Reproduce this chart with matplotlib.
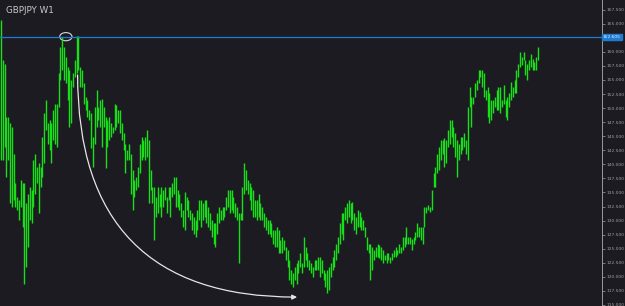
import matplotlib
matplotlib.use("Agg")
import matplotlib.pyplot as plt
import matplotlib.transforms as mtransforms
from matplotlib.patches import Ellipse, FancyArrowPatch
from matplotlib.path import Path

title = "GBPJPY W1"
level = 162.605
level_label = "162.605"
yticks = [115.0, 117.5, 120.0, 122.5, 125.0, 127.5, 130.0, 132.5, 135.0, 137.5, 140.0,
          142.5, 145.0, 147.5, 150.0, 152.5, 155.0, 157.5, 160.0, 162.5, 165.0, 167.5]
hidden_tick = 162.5  # covered by the level label in the reference

highs = [
    165.6, 158.5, 157.9, 148.5, 148.5, 147.3, 146.7, 141.9, 136.6, 134.2, 133.6, 137.2, 136.6, 136.6, 133.1,
    134.8, 136.0, 135.4, 140.8, 141.9, 139.6, 140.2, 139.6, 144.9, 149.1, 151.4, 147.3, 147.9, 147.3, 149.6,
    150.8, 150.8, 156.2, 160.9, 162.6, 160.9, 159.1, 157.3, 156.8, 155.0, 156.2, 158.5, 162.9, 162.9, 157.3,
    156.8, 154.4, 152.0, 151.4, 149.6, 149.1,
    144.9, 150.2, 153.2, 150.2, 151.4, 151.7, 150.2, 148.5, 147.9, 148.5, 147.3, 146.7, 150.8, 150.5, 149.6,
    149.6, 147.3, 145.5, 143.7, 142.5, 143.7, 141.9, 139.0, 137.2, 137.8, 139.6, 143.7, 144.9, 144.3, 144.9,
    146.1, 144.3, 139.0, 136.0, 136.0, 134.2, 136.0, 134.8, 136.0, 135.4, 136.0, 134.2, 136.0, 136.0, 136.6,
    137.8, 137.8, 135.4, 134.8, 133.1, 131.9,
    135.1, 134.2, 133.6, 131.9, 131.3, 130.7, 130.1, 131.9, 133.6, 133.6, 133.1, 133.6, 133.6, 132.5, 131.3,
    130.1, 129.5, 129.5, 131.3, 132.5, 131.9, 132.5, 132.5, 134.2, 135.4, 135.4, 135.4, 134.2, 133.1, 132.5,
    131.3, 131.3, 136.0, 140.2, 139.0, 137.2, 136.6, 136.0, 135.4, 133.6, 133.6, 134.8, 133.1, 132.5, 131.3,
    130.7, 130.1, 130.1, 129.5, 128.3, 128.3, 128.9, 128.3, 126.5,
    127.1, 126.5, 125.3, 124.8, 123.0, 121.2, 120.6, 121.8, 122.4, 123.0, 124.2, 122.4, 127.1, 125.3, 124.2,
    123.0, 122.4, 121.8, 123.0, 123.0, 123.6, 123.6, 123.0, 121.2, 120.6, 121.2, 121.8, 122.4, 123.6, 124.8,
    125.9, 127.1, 129.5, 131.3, 131.3, 132.5, 133.1, 133.6, 133.1, 133.3, 131.3, 130.7, 131.9, 131.6, 130.7,
    130.1, 128.9, 127.1, 125.9, 125.9, 125.3, 124.8, 125.3, 125.9, 125.6, 125.3, 124.8, 123.9, 124.2, 124.2,
    123.6, 124.2, 124.8, 125.3, 124.8, 125.9, 125.3, 127.1, 127.1, 128.9, 127.1, 127.1, 126.8, 127.1, 128.0,
    129.5, 128.9, 128.9, 128.9, 132.5, 132.5, 132.8, 132.5, 135.4, 138.4, 139.6, 141.9, 143.1, 144.3, 144.3,
    144.6, 144.3, 146.1, 147.9, 147.9, 146.7, 145.5, 144.3, 143.7, 144.9, 144.9, 145.5, 144.3, 150.2, 153.8,
    152.0, 152.0, 154.4, 155.0, 156.8, 156.8, 156.8, 156.2, 153.2, 153.8, 152.6, 151.4, 151.4, 152.0, 153.2,
    153.8, 153.8, 151.4, 154.1, 151.4, 152.0, 152.6, 154.7, 153.8, 155.0, 156.8, 157.9, 160.0, 159.1, 160.0,
    158.5, 157.9, 158.5, 159.7, 158.8, 158.2, 159.1, 160.9,
]
lows = [
    140.8, 140.8, 143.1, 137.8, 140.8, 133.1, 132.5, 133.6, 132.5, 131.9, 130.1, 132.5, 128.9, 118.8, 121.8,
    125.3, 130.1, 129.5, 132.5, 134.8, 136.6, 131.3, 136.0, 137.8, 140.2, 146.1, 143.7, 142.5, 140.2, 144.3,
    143.7, 143.1, 150.2, 155.0, 156.8, 155.0, 154.4, 151.4, 146.7, 147.3, 153.8, 155.6, 156.2, 156.8, 153.8,
    153.8, 150.8, 149.6, 148.5, 147.9, 142.9,
    139.6, 143.7, 146.7, 147.9, 146.7, 143.1, 146.7, 139.3, 143.1, 144.3, 144.9, 145.5, 146.1, 146.7, 147.3,
    145.5, 144.3, 142.5, 138.4, 140.8, 140.8, 134.8, 131.9, 134.2, 135.4, 136.0, 138.4, 140.8, 141.3, 140.8,
    141.3, 133.1, 135.4, 133.1, 126.5, 130.7, 131.3, 132.5, 130.7, 132.5, 133.6, 131.3, 133.6, 130.7, 134.2,
    134.8, 132.5, 132.5, 131.9, 130.7, 128.9,
    128.3, 131.9, 130.7, 130.1, 128.3, 127.7, 127.1, 128.3, 130.1, 128.9, 130.1, 130.7, 129.5, 128.9, 128.3,
    127.1, 125.9, 125.3, 127.7, 129.5, 130.1, 130.1, 130.7, 131.9, 132.5, 131.3, 131.9, 131.3, 130.7, 130.1,
    122.4, 130.1, 130.1, 134.8, 135.4, 134.8, 133.6, 131.9, 130.7, 130.7, 130.1, 130.7, 130.1, 130.1, 128.9,
    128.3, 127.7, 127.7, 127.1, 125.9, 125.3, 125.3, 124.2, 124.2,
    124.2, 124.8, 123.0, 121.8, 119.4, 118.8, 118.2, 119.4, 118.8, 120.6, 121.8, 120.6, 121.8, 123.0, 121.8,
    121.2, 120.6, 120.0, 121.2, 121.2, 121.2, 120.0, 120.6, 119.4, 118.2, 117.1, 117.6, 120.0, 121.2, 121.8,
    123.0, 124.2, 125.9, 127.7, 126.5, 130.1, 129.5, 130.7, 129.5, 130.1, 128.3, 127.7, 128.9, 128.9, 128.3,
    128.3, 127.1, 124.8, 124.2, 119.4, 121.2, 123.0, 123.6, 123.6, 123.3, 123.0, 122.4, 123.0, 122.4, 123.0,
    122.4, 123.0, 123.6, 123.6, 123.9, 124.2, 124.2, 124.8, 125.3, 125.9, 125.9, 125.9, 124.8, 125.9, 126.5,
    127.1, 127.1, 126.5, 125.9, 128.9, 131.3, 131.9, 131.6, 131.9, 136.0, 136.0, 138.4, 139.0, 140.8, 141.9,
    139.6, 140.2, 143.1, 143.7, 144.9, 143.1, 141.3, 137.8, 140.8, 141.9, 142.5, 143.1, 141.9, 140.8, 150.2,
    146.7, 150.8, 152.0, 153.2, 154.4, 155.6, 153.8, 152.0, 151.4, 148.5, 147.3, 147.9, 149.1, 150.2, 149.6,
    149.6, 149.1, 150.2, 150.8, 148.5, 147.9, 150.2, 151.4, 152.0, 152.6, 152.6, 155.6, 157.3, 157.6, 158.5,
    155.9, 155.0, 156.8, 157.3, 156.8, 156.8, 156.8, 158.5,
]

# annotation anchors (bar index, price)
peak_idx, peak_price = 36, 162.7
arc_start = (42.5, 155.9)
arc_ctrl = (42.5, 116.4)
arc_end = (164.3, 116.4)

BG = "#1c1b22"
GREEN = "#18e018"
TXT = "#a0a0a0"

fig = plt.figure(figsize=(6.25, 3.06), dpi=100, facecolor=BG)
ax = fig.add_axes([0, 0, 602 / 625, 1], facecolor=BG)

n = len(highs)
xs = list(range(n))
ax.vlines(xs, lows, highs, colors=GREEN, linewidth=1.0)

ax.axhline(level, color="#1f7bd0", linewidth=0.9)

ax.set_ylim(114.82, 169.22)
ax.set_xlim(-0.55, n - 1 + 35.5)

ax.yaxis.tick_right()
ax.set_yticks(yticks)
ax.set_yticklabels(["" if v == hidden_tick else f"{v:.3f}" for v in yticks])
ax.tick_params(axis="y", colors="#8a8a8a", labelcolor=TXT, labelsize=3.2,
               length=2.0, width=0.6, pad=1.0)
ax.set_xticks([])
for s in ["top", "left", "bottom"]:
    ax.spines[s].set_visible(False)
ax.spines["right"].set_color("#9a9a9a")
ax.spines["right"].set_linewidth(0.7)

trans = mtransforms.blended_transform_factory(ax.transAxes, ax.transData)
ax.text(1.0015, level, level_label, transform=trans, fontsize=3.2, color="#e8f0ff",
        va="center", ha="left", clip_on=False, zorder=5,
        bbox=dict(boxstyle="square,pad=0.25", fc="#1f7bd0", ec="#1f7bd0"))

ax.text(6 / 602, 0.965, title, transform=ax.transAxes, fontsize=6.3, color="#c8c8c8",
        va="center", ha="left")

ax.add_patch(Ellipse((peak_idx, peak_price), 6.8, 1.45, fill=False,
                     edgecolor="#d8d8d8", linewidth=0.8))

path = Path([arc_start, arc_ctrl, arc_end], [Path.MOVETO, Path.CURVE3, Path.CURVE3])
arrow = FancyArrowPatch(path=path, arrowstyle="-|>", mutation_scale=7,
                        color="#e6e6e6", linewidth=0.9)
ax.add_patch(arrow)

fig.savefig("out.png", dpi=100, facecolor=BG)
